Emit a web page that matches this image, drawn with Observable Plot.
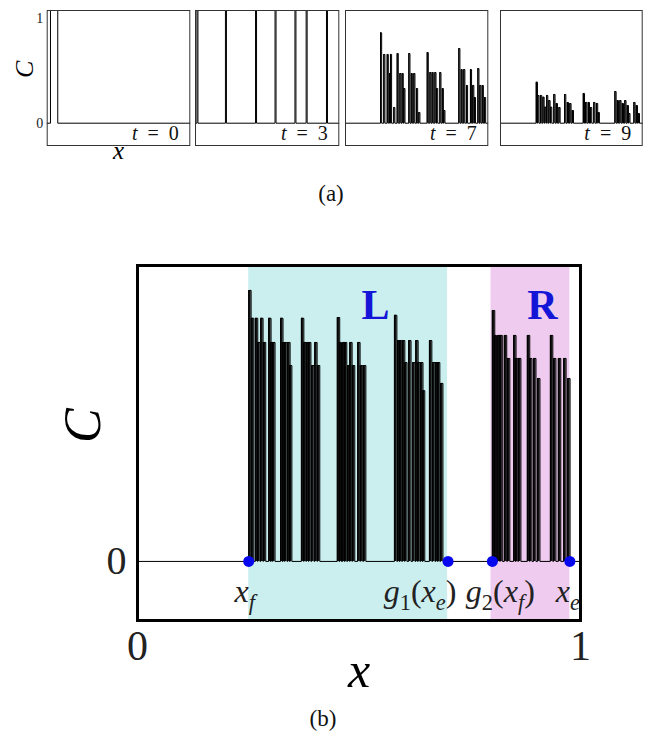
<!DOCTYPE html>
<html><head><meta charset="utf-8">
<script src="https://cdn.jsdelivr.net/npm/d3@7"></script>
<script src="https://cdn.jsdelivr.net/npm/@observablehq/plot@0.6"></script>
<style>
body{margin:0;background:#fff;}
#fig{position:relative;width:647px;height:738px;background:#fff;font-family:"Liberation Serif",serif;overflow:hidden;}
#fig svg{position:absolute;overflow:visible;}
.cap{position:absolute;font-size:23px;line-height:1;transform:translate(-50%,-50%);font-family:"Liberation Serif",serif;color:#111;}
</style></head><body><div id="fig"></div>
<script>
// ---------- data ----------
const times = ["0", "3", "7", "9"];
const smallYTicks = [0, 1];

// t = 0 : a single block at C = 1
const t0Start = [0.023];
const t0End = [0.074];
const t0C = [1];

// t = 3 : thin blocks at C = 1
const t3X = [0.010, 0.209, 0.419, 0.555, 0.694, 0.772, 0.914];
const t3C = [1, 1, 1, 1, 1, 1, 1];

// t = 7
const t7X = [0.246, 0.269, 0.293, 0.309, 0.316, 0.339, 0.363, 0.382, 0.398, 0.410, 0.445, 0.462, 0.480, 0.499, 0.515,
             0.574, 0.593, 0.609, 0.628, 0.640, 0.663, 0.680, 0.691,
             0.796, 0.813, 0.831, 0.850, 0.878, 0.894, 0.906, 0.930, 0.944, 0.961, 0.977];
const t7C = [0.802, 0.610, 0.610, 0.441, 0.610, 0.139, 0.618, 0.441, 0.441, 0.308, 0.618, 0.441, 0.441, 0.308, 0.095,
             0.627, 0.450, 0.450, 0.450, 0.308, 0.450, 0.308, 0.113,
             0.663, 0.476, 0.476, 0.335, 0.476, 0.335, 0.228, 0.485, 0.335, 0.335, 0.228];

// t = 9
const t9X = [0.252, 0.263, 0.282, 0.299, 0.313, 0.325, 0.341, 0.353, 0.376, 0.393, 0.412, 0.452, 0.471, 0.489, 0.506,
             0.584, 0.600, 0.619, 0.635, 0.658, 0.677, 0.689,
             0.807, 0.824, 0.842, 0.859, 0.877, 0.894, 0.905, 0.941, 0.958, 0.972];
const t9C = [0.364, 0.246, 0.246, 0.231, 0.142, 0.246, 0.201, 0.142, 0.255, 0.175, 0.139, 0.255, 0.184, 0.175, 0.113,
             0.264, 0.184, 0.184, 0.139, 0.184, 0.175, 0.095,
             0.281, 0.201, 0.201, 0.175, 0.201, 0.157, 0.086, 0.184, 0.157, 0.086];

// panel (b)
const bigX = [0.251, 0.257, 0.266, 0.271, 0.278, 0.284, 0.296, 0.300, 0.305,
              0.323, 0.327, 0.332, 0.339, 0.343,
              0.370, 0.375, 0.381, 0.386, 0.393, 0.400, 0.406,
              0.451, 0.455, 0.463, 0.467, 0.474, 0.479, 0.485, 0.497, 0.503, 0.510,
              0.580, 0.587, 0.591, 0.598, 0.603, 0.612, 0.621, 0.628, 0.632, 0.639, 0.643,
              0.659, 0.666, 0.673, 0.677, 0.684,
              0.801, 0.805, 0.813, 0.818, 0.828, 0.835, 0.849, 0.853, 0.860,
              0.880, 0.885, 0.894, 0.903, 0.932, 0.939, 0.950, 0.962, 0.971];
const bigC = [1.000, 0.897, 0.897, 0.808, 0.897, 0.808, 0.897, 0.808, 0.808,
              0.897, 0.808, 0.808, 0.808, 0.723,
              0.897, 0.808, 0.808, 0.808, 0.723, 0.808, 0.723,
              0.900, 0.808, 0.808, 0.808, 0.723, 0.808, 0.723, 0.808, 0.723, 0.723,
              0.908, 0.815, 0.815, 0.815, 0.734, 0.815, 0.734, 0.815, 0.734, 0.734, 0.630,
              0.815, 0.734, 0.734, 0.734, 0.657,
              0.926, 0.834, 0.834, 0.834, 0.834, 0.749, 0.834, 0.749, 0.749,
              0.834, 0.749, 0.749, 0.675, 0.834, 0.749, 0.749, 0.749, 0.675];

const regionNames = ["L", "R"];
const regionStart = [0.251, 0.798];
const regionEnd = [0.700, 0.976];
const regionLabelX = [0.537, 0.914];
const pointX = [0.251, 0.701, 0.801, 0.976];
const pointLabels = ["x_f", "g_1(x_e)", "g_2(x_f)", "x_e"];
const bigXTicks = [0, 1];
const bigYTicks = [0];

// ---------- helpers ----------
function pulses(xs, cs, w, ends) {
  const idx = xs.map((_, i) => i).sort((a, b) => xs[a] - xs[b]);
  const pts = [{x: 0, C: 0}];
  for (const i of idx) {
    const x1 = ends ? ends[i] : xs[i] + w;
    pts.push({x: xs[i], C: 0}, {x: xs[i], C: cs[i]}, {x: x1, C: cs[i]}, {x: x1, C: 0});
  }
  pts.push({x: 1, C: 0});
  return pts;
}
function mathify(svg, labels, fs) {
  svg.querySelectorAll("text").forEach(t => {
    const s = t.textContent;
    if (!labels.includes(s)) return;
    while (t.firstChild) t.removeChild(t.firstChild);
    t.style.whiteSpace = "pre";
    let reset = false;
    for (let i = 0; i < s.length; i++) {
      let ch = s[i], sub = false;
      if (ch === "_") { sub = true; ch = s[++i]; }
      const ts = document.createElementNS("http://www.w3.org/2000/svg", "tspan");
      ts.textContent = ch;
      ts.setAttribute("font-style", /[a-zA-Z]/.test(ch) ? "italic" : "normal");
      if (sub) { ts.setAttribute("font-size", fs * 0.7); ts.setAttribute("dy", fs * 0.25); reset = true; }
      else if (reset) { ts.setAttribute("dy", -fs * 0.25); reset = false; }
      t.appendChild(ts);
    }
  });
}
const fig = document.getElementById("fig");
const serif = "Liberation Serif, Times New Roman, serif";
const fmt = d => String(d);

// ---------- panel (a) ----------
const frames = [[46.7, 189.3], [195, 338.3], [345, 487.3], [500, 641.7]];
const panelData = [
  pulses(t0Start, t0C, 0, t0End),
  pulses(t3X, t3C, 0.007),
  pulses(t7X, t7C, 0.008),
  pulses(t9X, t9C, 0.009)
];
const panelFill = [false, false, true, true];
const tLabels = times.map(t => "t\u2002=\u2002" + t);
times.forEach((t, k) => {
  const [fl, fr] = frames[k];
  const marks = [];
  if (panelFill[k]) marks.push(Plot.areaY(panelData[k], {x: "x", y: "C", fill: "#000"}));
  marks.push(
    Plot.line(panelData[k], {x: "x", y: "C", stroke: "#000", strokeWidth: 1}),
    Plot.frame({stroke: "#333", strokeWidth: 1}),
    Plot.text([tLabels[k]], {frameAnchor: "bottom-right", text: d => d, textAnchor: "end", dx: -11, dy: -6, fontSize: 20, fill: "#111", fontFamily: serif})
  );
  if (k === 0) {
    marks.push(
      Plot.axisY([0], {tickSize: 0, tickPadding: 4, fontSize: 14, fill: "#222", tickFormat: fmt, label: null}),
      Plot.axisY([1], {tickSize: 0, tickPadding: 4, fontSize: 14, dy: 8, fill: "#222", tickFormat: fmt, label: null}),
      Plot.text(["C"], {frameAnchor: "left", text: d => d, dx: -23, rotate: -90, fontSize: 26, fontStyle: "italic", fontFamily: serif}),
      Plot.text(["x"], {frameAnchor: "bottom", text: d => d, dy: 13, fontSize: 25, fontStyle: "italic", fontFamily: serif})
    );
  }
  const svg = Plot.plot({
    width: 647, height: 170,
    marginLeft: fl, marginRight: 647 - fr, marginTop: 10, marginBottom: 25,
    x: {domain: [0, 1], axis: null},
    y: {domain: [-0.198, 1], axis: null},
    style: {background: "transparent", fontFamily: serif, overflow: "visible"},
    marks
  });
  svg.style.left = "0px"; svg.style.top = "0px";
  mathify(svg, tLabels, 20);
  fig.appendChild(svg);
});

// ---------- panel (b) ----------
const bigLine = pulses(bigX, bigC, 0.0055);
const regions = regionNames.map((n, i) => ({name: n, x1: regionStart[i], x2: regionEnd[i], lx: regionLabelX[i]}));
const labelDx = [-4, -28, 8, -2];
const bigMarks = [
  Plot.rect(regions, {x1: "x1", x2: "x2", fill: (d, i) => i === 0 ? "#cbefef" : "#efcbef"}),
  Plot.areaY(bigLine, {x: "x", y: "C", fill: "#111"}),
  Plot.line(bigLine, {x: "x", y: "C", stroke: "#000", strokeWidth: 1}),
  Plot.text(regions, {x: "lx", frameAnchor: "top", text: "name", dy: 24, fontSize: 42, fontWeight: "bold", fill: "#1515d8", fontFamily: serif}),
  Plot.dot(pointX, {x: d => d, y: () => 0, r: 5.5, fill: "#0808ee", stroke: "none"}),
  ...pointLabels.map((lab, i) => Plot.text([pointX[i]], {x: d => d, y: () => 0, text: () => lab, dx: labelDx[i], dy: 30, fontSize: 32, fill: "#222", fontFamily: serif})),
  Plot.frame({stroke: "#000", strokeWidth: 3}),
  Plot.axisX(bigXTicks, {tickSize: 0, tickPadding: 10, fontSize: 42, fill: "#222", anchor: "bottom", tickFormat: fmt, label: null}),
  Plot.axisY(bigYTicks, {tickSize: 0, tickPadding: 11, fontSize: 40, fill: "#222", anchor: "left", tickFormat: fmt, label: null}),
  Plot.text(["C"], {frameAnchor: "left", text: d => d, dx: -54, rotate: -90, fontSize: 52, fontStyle: "italic", fontFamily: serif}),
  Plot.text(["x"], {frameAnchor: "bottom", text: d => d, dy: 66, fontSize: 50, fontStyle: "italic", fontFamily: serif})
];
const big = Plot.plot({
  width: 647, height: 470,
  marginLeft: 137, marginRight: 67, marginTop: 25, marginBottom: 90,
  x: {domain: [0, 1], axis: null},
  y: {domain: [-0.218, 1.092], axis: null},
  style: {background: "transparent", fontFamily: serif, overflow: "visible"},
  marks: bigMarks
});
big.style.left = "0px"; big.style.top = "240px";
mathify(big, pointLabels, 32);
fig.appendChild(big);

// captions
const capA = document.createElement("div"); capA.className = "cap"; capA.textContent = "(a)";
capA.style.left = "331px"; capA.style.top = "193px"; fig.appendChild(capA);
const capB = document.createElement("div"); capB.className = "cap"; capB.textContent = "(b)";
capB.style.left = "323px"; capB.style.top = "718px"; fig.appendChild(capB);
</script></body></html>
